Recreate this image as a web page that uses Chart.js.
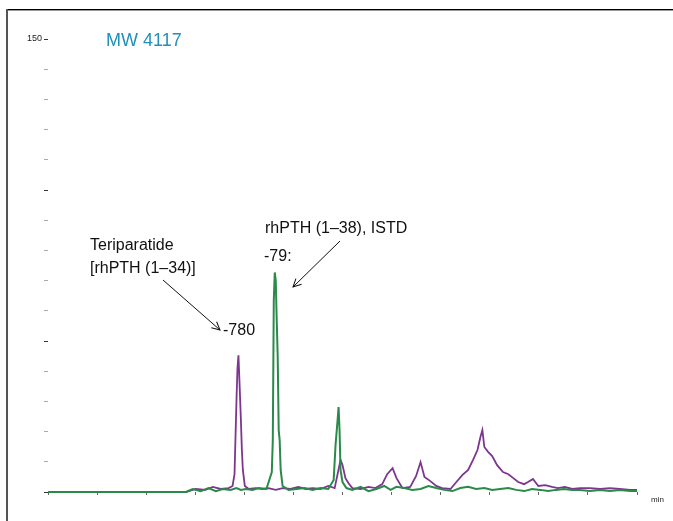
<!DOCTYPE html>
<html>
<head>
<meta charset="utf-8">
<script src="https://cdn.jsdelivr.net/npm/chart.js@4.4.0/dist/chart.umd.min.js"></script>
<style>
  html, body { margin: 0; padding: 0; background: #fff; }
  #wrap { position: relative; width: 673px; height: 521px; overflow: hidden; font-family: "Liberation Sans", Arial, sans-serif; }
  #chart { position: absolute; left: 0; top: 0; }
  .txt { position: absolute; white-space: nowrap; font-size: 16px; line-height: 18px; color: #111; }
  #title { position: absolute; left: 106px; top: 30px; font-size: 18px; line-height: 20px; color: #2190bb; white-space: nowrap; }
  #unit { position: absolute; left: 651px; top: 495px; font-size: 8px; line-height: 10px; color: #222; }
  #frameTop { position: absolute; left: 6px; top: 9px; width: 667px; height: 1px; background: #000; border-bottom: 1px solid #999; }
  #frameLeft { position: absolute; left: 6px; top: 9px; width: 2px; height: 512px; background: #555; }
  svg { position: absolute; left: 0; top: 0; }
</style>
</head>
<body>
<div id="wrap">
  <canvas id="chart" width="673" height="521"></canvas>
  <div id="frameTop"></div>
  <div id="frameLeft"></div>
  <div id="title">MW 4117</div>
  <div class="txt" style="left:90px; top:236px;">Teriparatide</div>
  <div class="txt" style="left:90px; top:259px;">[rhPTH (1–34)]</div>
  <div class="txt" style="left:223px; top:321px;">-780</div>
  <div class="txt" style="left:265px; top:219px;">rhPTH (1–38), ISTD</div>
  <div class="txt" style="left:264px; top:247px;">-79:</div>
  <div id="unit">min</div>
  <svg width="673" height="521">
    <defs>
      <marker id="head" markerWidth="10" markerHeight="10" refX="9" refY="5" orient="auto" markerUnits="userSpaceOnUse">
        <path d="M1,1 L9,5 L1,9" fill="none" stroke="#111" stroke-width="1"/>
      </marker>
    </defs>
    <line x1="163" y1="280" x2="220" y2="330" stroke="#111" stroke-width="1" marker-end="url(#head)"/>
    <line x1="340" y1="241" x2="293" y2="287" stroke="#111" stroke-width="1" marker-end="url(#head)"/>
  </svg>
</div>
<script>
// Retention time (min) and intensity for the teriparatide trace
const teriTime = [0, 1.48, 2.81, 3.01, 3.21, 3.36, 3.52, 3.68, 3.76, 3.80, 3.84, 3.86, 3.88, 3.90, 3.93, 3.95, 3.97, 4.01, 4.09, 4.23, 4.37, 4.49, 4.64, 4.78, 4.94, 5.10, 5.25, 5.39, 5.55, 5.71, 5.84, 5.96, 6.00, 6.06, 6.12, 6.20, 6.37, 6.53, 6.67, 6.81, 6.91, 7.02, 7.10, 7.22, 7.38, 7.50, 7.59, 7.67, 7.79, 7.91, 8.03, 8.20, 8.32, 8.44, 8.56, 8.66, 8.75, 8.81, 8.85, 8.89, 8.97, 9.05, 9.15, 9.27, 9.38, 9.48, 9.58, 9.70, 9.78, 9.88, 9.99, 10.13, 10.27, 10.39, 10.53, 10.68, 10.84, 11.04, 11.25, 11.45, 11.65, 11.86, 12.00];
const teriSignal = [0, 0, 0, 1.0, 0.7, 1.7, 1.0, 1.3, 2.0, 5.9, 30.4, 41.0, 45.3, 37.0, 23.8, 13.9, 7.3, 2.0, 1.0, 1.3, 1.0, 1.3, 0.7, 1.3, 1.0, 1.7, 1.0, 1.3, 1.0, 2.0, 1.3, 10.6, 8.9, 4.6, 3.0, 1.3, 1.0, 1.7, 1.3, 2.6, 5.9, 7.9, 4.6, 1.3, 1.7, 5.3, 9.9, 5.0, 3.6, 2.0, 1.3, 1.0, 3.3, 5.6, 7.3, 10.6, 13.9, 18.2, 20.5, 14.9, 13.2, 11.9, 8.9, 6.6, 5.9, 4.6, 3.3, 2.6, 3.3, 4.3, 2.0, 2.3, 1.7, 1.3, 1.7, 1.0, 1.3, 1.3, 1.0, 1.3, 1.0, 0.7, 0.7];

// Retention time (min) and intensity for the internal standard trace
const istdTime = [0, 2.81, 2.95, 3.11, 3.27, 3.42, 3.56, 3.72, 3.84, 3.93, 4.03, 4.17, 4.29, 4.45, 4.56, 4.58, 4.60, 4.62, 4.64, 4.66, 4.68, 4.70, 4.72, 4.74, 4.78, 4.90, 5.06, 5.23, 5.39, 5.55, 5.71, 5.82, 5.86, 5.90, 5.92, 5.94, 5.96, 6.00, 6.08, 6.20, 6.37, 6.53, 6.69, 6.85, 6.98, 7.10, 7.26, 7.42, 7.59, 7.75, 7.91, 8.07, 8.24, 8.40, 8.56, 8.72, 8.89, 9.05, 9.21, 9.38, 9.54, 9.70, 9.86, 10.03, 10.19, 10.35, 10.51, 10.68, 10.84, 11.04, 11.25, 11.45, 11.65, 11.86, 12.00];
const istdSignal = [0, 0, 1.0, 0.3, 1.3, 0.3, 1.0, 0.7, 1.3, 0.7, 1.0, 0.7, 1.3, 1.0, 6.6, 17.2, 63.4, 72.7, 70.0, 56.8, 44.9, 20.5, 17.2, 7.3, 2.0, 0.7, 1.0, 1.3, 0.7, 1.3, 1.0, 4.0, 15.9, 23.8, 28.1, 20.5, 7.3, 3.3, 1.3, 0.7, 1.7, 0.3, 1.0, 2.0, 0.7, 1.7, 1.3, 0.7, 1.0, 2.0, 1.3, 0.7, 0.3, 1.3, 1.7, 1.0, 1.3, 0.7, 1.0, 1.3, 0.7, 0.3, 1.0, 0.7, 0.3, 0.7, 1.0, 0.7, 0.7, 0.3, 0.7, 0.3, 0.7, 0.3, 0.3];

// Axis settings
const timeMin = 0, timeMax = 12;
const yMax = 150, yStep = 10;
const yLabels = [150];

const toPoints = (t, v) => t.map((x, i) => ({ x: x, y: v[i] }));

new Chart(document.getElementById('chart'), {
  type: 'line',
  data: {
    datasets: [
      {
        label: 'rhPTH (1–38), ISTD',
        data: toPoints(istdTime, istdSignal),
        borderColor: '#2a8a4a',
        borderWidth: 2,
        pointRadius: 0,
        tension: 0,
        fill: false,
        clip: false,
        order: 0
      },
      {
        label: 'Teriparatide',
        data: toPoints(teriTime, teriSignal),
        borderColor: '#7d3590',
        borderWidth: 1.8,
        pointRadius: 0,
        tension: 0,
        fill: false,
        clip: false,
        order: 1
      }
    ]
  },
  options: {
    responsive: false,
    animation: false,
    devicePixelRatio: 1,
    layout: { padding: { top: 39, right: 36, left: 0, bottom: 0 } },
    plugins: { legend: { display: false }, tooltip: { enabled: false } },
    scales: {
      x: {
        type: 'linear',
        min: timeMin,
        max: timeMax,
        border: { display: false },
        grid: { drawOnChartArea: false, drawTicks: true, tickLength: 3, color: '#666' },
        ticks: { stepSize: 1, callback: () => '', font: { size: 8 } },
        afterFit: s => { s.height = 29; }
      },
      y: {
        min: 0,
        max: yMax,
        border: { display: false },
        grid: {
          drawOnChartArea: false,
          drawTicks: true,
          tickLength: 4,
          tickColor: c => (c.tick && c.tick.value % 50 === 0) ? '#333' : '#aaa'
        },
        ticks: {
          stepSize: yStep,
          padding: 2,
          color: '#222',
          font: { family: 'Liberation Sans, Arial, sans-serif', size: 9 },
          callback: v => yLabels.includes(v) ? String(v) : ''
        },
        afterFit: s => { s.width = 48; }
      }
    }
  }
});
</script>
</body>
</html>
